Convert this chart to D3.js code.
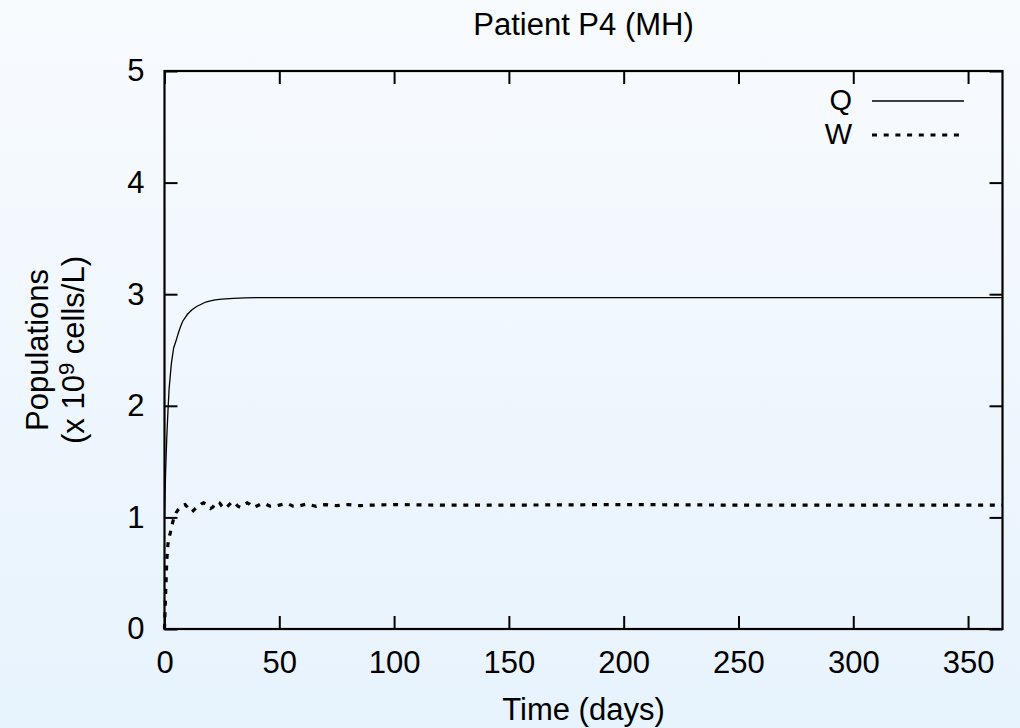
<!DOCTYPE html>
<html>
<head>
<meta charset="utf-8">
<script src="https://cdn.jsdelivr.net/npm/d3@7"></script>
<style>
html,body{margin:0;padding:0;}
svg{display:block;}
text{font-family:"Liberation Sans",Arial,Helvetica,sans-serif;fill:#000;}
</style>
</head>
<body>
<svg id="chart" width="1020" height="728"></svg>
<script>
// ---- data ----
const title = "Patient P4 (MH)";
const xLabel = "Time (days)";
const xTicks = [0, 50, 100, 150, 200, 250, 300, 350];
const yTicks = [0, 1, 2, 3, 4, 5];
const seriesNames = ["Q", "W"];

const qTime = [0, 0.5, 1, 1.5, 2, 3, 4, 5, 6, 7, 8, 10, 12, 14, 16, 18, 20, 22, 25, 30, 35, 40, 60, 100, 150, 200, 250, 300, 365];
const qValue = [1.0, 1.42, 1.72, 1.95, 2.15, 2.38, 2.52, 2.58, 2.65, 2.71, 2.76, 2.82, 2.86, 2.89, 2.91, 2.93, 2.94, 2.95, 2.955, 2.963, 2.967, 2.97, 2.97, 2.97, 2.97, 2.97, 2.97, 2.97, 2.97];

const wTime = [0, 0.5, 1, 1.5, 2, 2.5, 3, 3.5, 4, 5, 6, 7, 8, 9, 10, 11, 12, 13, 14, 15, 16, 17, 18, 19, 20, 21, 22, 23, 24, 25, 26, 27, 28, 29, 30, 31, 32, 33, 34, 35, 36, 37, 38, 39, 40, 42, 44, 46, 48, 50, 52, 54, 56, 58, 60, 62, 64, 66, 68, 70, 75, 80, 85, 90, 100, 120, 150, 200, 250, 300, 365];
const wValue = [0, 0.32, 0.62, 0.76, 0.82, 0.86, 0.91, 0.95, 0.99, 1.04, 1.07, 1.09, 1.11, 1.115, 1.09, 1.06, 1.05, 1.07, 1.09, 1.10, 1.12, 1.13, 1.12, 1.10, 1.08, 1.09, 1.12, 1.14, 1.13, 1.10, 1.08, 1.09, 1.11, 1.13, 1.14, 1.12, 1.10, 1.09, 1.10, 1.12, 1.13, 1.12, 1.10, 1.09, 1.10, 1.12, 1.12, 1.10, 1.10, 1.11, 1.12, 1.12, 1.10, 1.10, 1.11, 1.12, 1.11, 1.10, 1.11, 1.115, 1.105, 1.115, 1.105, 1.11, 1.115, 1.11, 1.11, 1.115, 1.11, 1.11, 1.11];

// ---- layout ----
const svg = d3.select("#chart");
const W = 1020, H = 728;
const L = 164.5, R = 1002.5, T = 71, B = 629;

const defs = svg.append("defs");
const grad = defs.append("linearGradient").attr("id", "bg").attr("x1", 0).attr("y1", 0).attr("x2", 0).attr("y2", 1);
grad.append("stop").attr("offset", "0%").attr("stop-color", "#f8fbfe");
grad.append("stop").attr("offset", "100%").attr("stop-color", "#e7f3fd");
svg.append("rect").attr("width", W).attr("height", H).attr("fill", "url(#bg)");

const x = d3.scaleLinear().domain([0, 365]).range([L, R]);
const y = d3.scaleLinear().domain([0, 5]).range([B, T]);

const FS = 31;
const tickLen = 13;

// axes (gnuplot-style: inward ticks, mirrored)
const gB = svg.append("g").attr("transform", `translate(0,${B})`)
  .call(d3.axisBottom(x).tickValues(xTicks).tickSize(-tickLen).tickPadding(22).tickFormat(d3.format("d")));
const gT = svg.append("g").attr("transform", `translate(0,${T})`)
  .call(d3.axisTop(x).tickValues(xTicks).tickSize(-tickLen).tickFormat(""));
const gL = svg.append("g").attr("transform", `translate(${L},0)`)
  .call(d3.axisLeft(y).tickValues(yTicks).tickSize(-tickLen).tickPadding(20).tickFormat(d3.format("d")));
const gR = svg.append("g").attr("transform", `translate(${R},0)`)
  .call(d3.axisRight(y).tickValues(yTicks).tickSize(-tickLen).tickFormat(""));

[gB, gT, gL, gR].forEach(g => {
  g.select(".domain").remove();
  g.selectAll(".tick line").attr("stroke", "#000").attr("stroke-width", 2);
  g.selectAll("text").style("font-size", FS + "px").attr("fill", "#000");
});
gB.selectAll("text").attr("dy", "0.71em");

// frame
svg.append("rect").attr("x", L).attr("y", T).attr("width", R - L).attr("height", B - T)
  .attr("fill", "none").attr("stroke", "#000").attr("stroke-width", 2.2);

// lines
const qData = qTime.map((t, i) => [t, qValue[i]]);
const wData = wTime.map((t, i) => [t, wValue[i]]);
const line = d3.line().x(d => x(d[0])).y(d => y(d[1]));

svg.append("path").datum(qData).attr("d", line)
  .attr("fill", "none").attr("stroke", "#000").attr("stroke-width", 1.3);
svg.append("path").datum(wData).attr("d", line)
  .attr("fill", "none").attr("stroke", "#000").attr("stroke-width", 3.2)
  .attr("stroke-dasharray", "5,6.7");

// legend
const legY = [100, 134];
const legFS = 29;
const legend = svg.append("g");
seriesNames.forEach((name, i) => {
  legend.append("text").attr("x", 852).attr("y", legY[i]).attr("dy", "0.36em")
    .attr("text-anchor", "end").style("font-size", legFS + "px").text(name);
  legend.append("line").attr("x1", 872).attr("x2", 964).attr("y1", legY[i] + 1).attr("y2", legY[i] + 1)
    .attr("stroke", "#000")
    .attr("stroke-width", i === 0 ? 1.3 : 3.2)
    .attr("stroke-dasharray", i === 0 ? null : "5,6.7");
});

// title
svg.append("text").attr("x", (L + R) / 2).attr("y", 35).attr("text-anchor", "middle")
  .style("font-size", FS + "px").text(title);

// x label
svg.append("text").attr("x", (L + R) / 2).attr("y", 720).attr("text-anchor", "middle")
  .style("font-size", FS + "px").text(xLabel);

// y label (two lines, rotated)
const yl = svg.append("g").attr("transform", `translate(0,${(T + B) / 2}) rotate(-90)`);
yl.append("text").attr("x", 0).attr("y", 48).attr("text-anchor", "middle")
  .style("font-size", FS + "px").text("Populations");
const t2 = yl.append("text").attr("x", 0).attr("y", 84).attr("text-anchor", "middle")
  .style("font-size", FS + "px");
t2.append("tspan").text("(x 10");
t2.append("tspan").attr("dy", -10).style("font-size", "22px").text("9");
t2.append("tspan").attr("dy", 10).text(" cells/L)");
</script>
</body>
</html>
